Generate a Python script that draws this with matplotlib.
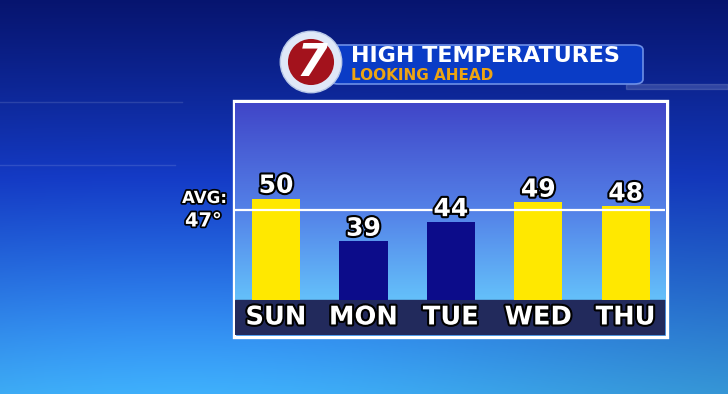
import numpy as np
import matplotlib.pyplot as plt
import matplotlib.patheffects as pe
from matplotlib.patches import Rectangle, Circle, FancyBboxPatch

# chart values
days = ["SUN", "MON", "TUE", "WED", "THU"]
highs = [50, 39, 44, 49, 48]
avg_high = 47
bar_colors = ["#ffe800", "#0c0c8a", "#0c0c8a", "#ffe800", "#ffe800"]

W, H = 728, 394
fig = plt.figure(figsize=(W / 100, H / 100), dpi=100)


def px_rect(x0, y0, x1, y1):
    # pixel box (top-left origin) -> figure fraction rect
    return [x0 / W, 1 - y1 / H, (x1 - x0) / W, (y1 - y0) / H]


# background gradient
bg = fig.add_axes([0, 0, 1, 1])
yy, xx = np.mgrid[0:1:200j, 0:1:300j]
stops_t = [0.0, 0.45, 1.0]
stops_c = np.array([[8, 24, 130], [22, 64, 215], [60, 168, 240]]) / 255
img = np.zeros(yy.shape + (3,))
for k in range(3):
    img[..., k] = np.interp(yy, stops_t, stops_c[:, k])
glow = np.exp(-(((xx - 0.25) / 0.6) ** 2 + ((yy - 0.95) / 0.5) ** 2))
img = np.clip(img * (0.85 + 0.2 * glow[..., None]), 0, 1)
bg.imshow(img, extent=[0, 1, 0, 1], aspect="auto", origin="upper")
# a few faint decorative lines
for y0, x0, x1 in [(0.74, 0.0, 0.25), (0.58, 0.0, 0.24)]:
    bg.plot([x0, x1], [y0, y0], color="white", alpha=0.12, lw=1)
bg.plot([0.37, 0.53], [0.42, 0.42], color="white", alpha=0.08, lw=1)
bg.add_patch(Rectangle((0.86, 0.775), 0.14, 0.012, color="white", alpha=0.15))
bg.add_patch(Rectangle((0.76, 0.45), 0.1, 0.008, color="white", alpha=0.06))
bg.set_xlim(0, 1)
bg.set_ylim(0, 1)
bg.axis("off")

# main chart axes (bars baseline at pixel 300, label band below)
ax = fig.add_axes(px_rect(235, 103, 665, 335))
y_lo, y_base, y_hi = 15.0, 24.0, 74.5
x_lo, x_hi = -0.47, 4.45
grad = np.linspace(0, 1, 100)[:, None]
cols = np.array([[64, 70, 200], [84, 130, 232], [100, 192, 250]]) / 255
gimg = np.zeros((100, 1, 3))
for k in range(3):
    gimg[..., k] = np.interp(grad, [0, 0.55, 1], cols[:, k])
ax.imshow(gimg, extent=[x_lo, x_hi, y_base, y_hi], aspect="auto", origin="upper", zorder=0)
ax.axhspan(y_lo, y_base, color="#222a5c", zorder=1)

x = np.arange(len(days))
ax.bar(x, np.array(highs) - y_base, bottom=y_base, width=0.55, color=bar_colors, zorder=2)
ax.axhline(avg_high, color="white", lw=1.6, zorder=3)

outline = [pe.withStroke(linewidth=3, foreground="black")]
for xi, v in zip(x, highs):
    ax.text(xi, v + 0.2, str(v), ha="center", va="bottom", color="white",
            fontsize=18, fontweight="bold", zorder=4, path_effects=outline)
for xi, d in zip(x, days):
    ax.text(xi, (y_lo + y_base) / 2, d, ha="center", va="center", color="white",
            fontsize=18.5, fontweight="bold", zorder=4, path_effects=outline)

ax.set_xlim(x_lo, x_hi)
ax.set_ylim(y_lo, y_hi)
ax.axis("off")

# white frame around the chart
bg.add_patch(Rectangle((233.5 / W, 1 - 336.5 / H), 433 / W, 236 / H, fill=False,
                       ec="white", lw=2.4, transform=fig.transFigure, zorder=5))

# average label
avg_outline = [pe.withStroke(linewidth=2.5, foreground="black")]
fig.text(227 / W, 1 - 198 / H, "AVG:", ha="right", va="center", color="white",
         fontsize=12, fontweight="bold", path_effects=avg_outline)
fig.text(222 / W, 1 - 221 / H, f"{avg_high}°", ha="right", va="center", color="white",
         fontsize=14, fontweight="bold", path_effects=avg_outline)

# title banner
bg.add_patch(FancyBboxPatch((330 / W, 1 - 84 / H), 313 / W, 39 / H,
                            boxstyle="round,pad=0,rounding_size=0.012",
                            fc="#0a3cc6", ec="#6d8fe6", lw=1.2,
                            transform=fig.transFigure, zorder=6))
fig.text(351 / W, 1 - 62 / H, "HIGH TEMPERATURES", ha="left", va="baseline", color="white",
         fontsize=16, fontweight="bold", zorder=7)
fig.text(351 / W, 1 - 79.5 / H, "LOOKING AHEAD", ha="left", va="baseline", color="#eda412",
         fontsize=11, fontweight="bold", zorder=7)

# station logo
logo = fig.add_axes(px_rect(279, 30, 343, 94))
logo.set_xlim(-1, 1)
logo.set_ylim(-1, 1)
logo.set_aspect("equal")
logo.axis("off")
logo.add_patch(Circle((0, 0), 0.96, fc="#dfe8f8", ec="#b8c8e8", lw=1))
logo.add_patch(Circle((0, 0), 0.72, fc="#a3121c"))
logo.text(0.02, -0.04, "7", ha="center", va="center", color="white", fontsize=32,
          fontweight="bold", style="italic")

fig.savefig("out.png", dpi=100)
